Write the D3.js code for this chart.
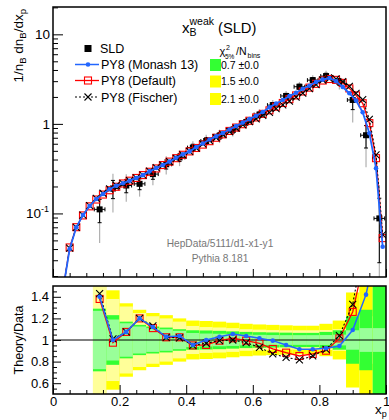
<!DOCTYPE html>
<html><head><meta charset="utf-8">
<script src="https://cdn.jsdelivr.net/npm/d3@7"></script>
<style>body{margin:0;background:#fff} svg{display:block} text{font-family:"Liberation Sans",Arial,Helvetica,sans-serif}</style>
</head><body><svg id="c" width="389" height="420"></svg>
<script>
// ---------- data ----------
const mcX = [0.01,0.03,0.05,0.07,0.09,0.11,0.13,0.15,0.17,0.19,0.21,0.23,0.25,0.27,0.29,0.31,0.33,0.35,0.37,0.39,0.41,0.43,0.45,0.47,0.49,0.51,0.53,0.55,0.57,0.59,0.61,0.63,0.65,0.67,0.69,0.71,0.73,0.75,0.77,0.79,0.81,0.83,0.85,0.87,0.89,0.91,0.93,0.95,0.97,0.99];
const mcDefault = [0.003,0.014,0.0417,0.0702,0.095,0.120,0.143,0.1625,0.1815,0.1986,0.216,0.232,0.249,0.268,0.292,0.318,0.347,0.379,0.414,0.452,0.493,0.538,0.587,0.641,0.700,0.764,0.834,0.910,0.992,1.083,1.18,1.294,1.416,1.556,1.712,1.888,2.08,2.30,2.54,2.80,3.05,3.17,3.10,2.87,2.49,2.08,1.70,1.02,0.414,0.053];
const mcMonash = [0.003,0.014,0.040,0.070,0.096,0.121,0.145,0.165,0.186,0.204,0.217,0.232,0.249,0.268,0.295,0.321,0.347,0.379,0.419,0.457,0.493,0.550,0.605,0.670,0.725,0.792,0.865,0.945,1.034,1.130,1.235,1.357,1.530,1.686,1.850,2.04,2.23,2.47,2.67,2.94,3.12,3.25,3.00,2.58,2.20,1.82,1.35,0.787,0.32,0.0425];
const mcFischer = [0.003,0.014,0.041,0.070,0.096,0.122,0.147,0.168,0.188,0.206,0.216,0.232,0.249,0.268,0.297,0.324,0.347,0.379,0.412,0.450,0.493,0.538,0.597,0.652,0.700,0.764,0.821,0.895,0.973,1.062,1.135,1.245,1.345,1.478,1.628,1.795,1.99,2.20,2.48,2.74,3.09,3.21,3.19,2.96,2.63,2.19,1.87,1.12,0.45,0.058];

const dataX = [0.14,0.18,0.22,0.26,0.30,0.34,0.38,0.42,0.46,0.50,0.54,0.58,0.62,0.66,0.70,0.74,0.78,0.82,0.86,0.90,0.94,0.98];
const dataY = [0.111,0.19,0.205,0.214,0.275,0.354,0.422,0.543,0.644,0.736,0.858,1.044,1.27,1.62,2.05,2.60,3.08,3.42,2.95,1.85,0.747,0.088];
const errStat = [0.27,0.19,0.155,0.125,0.11,0.10,0.085,0.065,0.06,0.058,0.055,0.05,0.048,0.046,0.045,0.045,0.045,0.046,0.05,0.09,0.11,0.11];
const errTot  = [0.29,0.23,0.17,0.14,0.125,0.115,0.10,0.09,0.088,0.085,0.08,0.075,0.072,0.07,0.068,0.066,0.066,0.075,0.09,0.22,0.28,0.68];
const binHalf = 0.02;

const ratioDefault = [1.38,0.975,1.075,1.20,1.11,1.025,1.025,0.95,0.954,0.994,1.016,0.994,0.969,0.917,0.883,0.852,0.871,0.901,1.015,1.26,1.82,2.6];
const ratioMonash  = [1.40,1.0,1.075,1.20,1.12,1.03,1.037,0.954,1.0,1.03,1.055,1.037,1.016,0.994,0.954,0.914,0.914,0.923,0.945,1.092,1.42,2.0];
const ratioFischer = [1.43,1.01,1.075,1.20,1.13,1.025,1.02,0.95,0.97,0.994,1.0,0.975,0.932,0.871,0.84,0.815,0.852,0.914,1.04,1.33,2.0,2.8];

const legendNames = ["SLD","PY8 (Monash 13)","PY8 (Default)","PY8 (Fischer)"];
const chi2Text = ["0.7 \u00b10.0","1.5 \u00b10.0","2.1 \u00b10.0"];
const xTicks = [0,0.2,0.4,0.6,0.8,1];
const rTicks = [0.6,0.8,1,1.2,1.4];
const yMajor = [0.1,1,10];

// ---------- setup ----------
const svg = d3.select("#c");
svg.append("rect").attr("width",389).attr("height",420).attr("fill","#fff");
const L=53,R=386,T1=7,B1=277,T2=286,B2=394;
const x = d3.scaleLinear().domain([0,1]).range([L,R]);
const y = d3.scaleLog().domain([0.0195,20.2]).range([B1,T1]);
const yr = d3.scaleLinear().domain([0.5,1.5]).range([B2,T2]);

const defs = svg.append("defs");
defs.append("clipPath").attr("id","cpTop").append("rect").attr("x",L).attr("y",T1).attr("width",R-L).attr("height",B1-T1);
defs.append("clipPath").attr("id","cpRat").append("rect").attr("x",L).attr("y",T2).attr("width",R-L).attr("height",B2-T2);

const BLUE="#2266ff", RED="#ff0000";
const C_G="#33ff33", C_PG="#99ff99", C_Y="#ffff00", C_PY="#ffff99";

function markerSquareOpen(g,cx,cy){g.append("rect").attr("x",cx-3.5).attr("y",cy-3.5).attr("width",7).attr("height",7).attr("fill","none").attr("stroke",RED).attr("stroke-width",1.1);}
function markerX(g,cx,cy){g.append("path").attr("d",`M${cx-3.5},${cy-3.5}L${cx+3.5},${cy+3.5}M${cx-3.5},${cy+3.5}L${cx+3.5},${cy-3.5}`).attr("stroke","#000").attr("stroke-width",1.1);}
function markerDot(g,cx,cy){g.append("circle").attr("cx",cx).attr("cy",cy).attr("r",2.3).attr("fill",BLUE);}

// ---------- top panel ----------
const gt = svg.append("g").attr("clip-path","url(#cpTop)");
const lo = v => Math.max(v, 1e-4);
dataX.forEach((cx,i)=>{
  const v=dataY[i], b=errTot[i], px=x(cx);
  gt.append("line").attr("x1",px).attr("x2",px).attr("y1",y(lo(v*(1-2*b)))).attr("y2",y(v*(1+2*b))).attr("stroke","#b0b0b0").attr("stroke-width",1.2);
  const y1=y(lo(v*(1-b))), y2=y(v*(1+b));
  gt.append("line").attr("x1",px).attr("x2",px).attr("y1",y1).attr("y2",y2).attr("stroke","#000");
  [y1,y2].forEach(yy=>gt.append("line").attr("x1",px-2).attr("x2",px+2).attr("y1",yy).attr("y2",yy).attr("stroke","#000"));
  const xa=x(cx-0.016), xb=x(cx+0.016), py=y(v);
  gt.append("line").attr("x1",xa).attr("x2",xb).attr("y1",py).attr("y2",py).attr("stroke","#000");
  [xa,xb].forEach(xx=>gt.append("line").attr("x1",xx).attr("x2",xx).attr("y1",py-2).attr("y2",py+2).attr("stroke","#000"));
  gt.append("rect").attr("x",px-3).attr("y",py-3).attr("width",6).attr("height",6).attr("fill","#000");
});
const lineTop = arr => d3.line().x((d,i)=>x(mcX[i])).y(d=>y(d))(arr);
gt.append("path").attr("d",lineTop(mcDefault)).attr("fill","none").attr("stroke",RED).attr("stroke-width",1.3);
mcDefault.forEach((d,i)=>markerSquareOpen(gt,x(mcX[i]),y(d)));
gt.append("path").attr("d",lineTop(mcFischer)).attr("fill","none").attr("stroke","#000").attr("stroke-width",1.1).attr("stroke-dasharray","2,2");
mcFischer.forEach((d,i)=>markerX(gt,x(mcX[i]),y(d)));
gt.append("path").attr("d",lineTop(mcMonash)).attr("fill","none").attr("stroke",BLUE).attr("stroke-width",1.8);
mcMonash.forEach((d,i)=>markerDot(gt,x(mcX[i]),y(d)));

// ---------- ratio panel ----------
const gr = svg.append("g").attr("clip-path","url(#cpRat)");
dataX.forEach((cx,i)=>{
  const a=errStat[i], b=errTot[i], xa=x(cx-binHalf), w=x(cx+binHalf)-xa;
  [[2*b,C_Y],[2*a,C_PY],[b,C_G],[a,C_PG]].forEach(([e,c])=>{
    gr.append("rect").attr("x",xa).attr("width",w).attr("y",yr(1+e)).attr("height",yr(1-e)-yr(1+e)).attr("fill",c);
  });
});
gr.append("line").attr("x1",L).attr("x2",R).attr("y1",yr(1)).attr("y2",yr(1)).attr("stroke","#000").attr("stroke-width",1);
const lineR = arr => d3.line().x((d,i)=>x(dataX[i])).y(d=>yr(d))(arr);
gr.append("path").attr("d",lineR(ratioDefault)).attr("fill","none").attr("stroke",RED).attr("stroke-width",1.3);
ratioDefault.forEach((d,i)=>markerSquareOpen(gr,x(dataX[i]),yr(d)));
gr.append("path").attr("d",lineR(ratioFischer)).attr("fill","none").attr("stroke","#000").attr("stroke-width",1.1).attr("stroke-dasharray","2,2");
ratioFischer.forEach((d,i)=>markerX(gr,x(dataX[i]),yr(d)));
gr.append("path").attr("d",lineR(ratioMonash)).attr("fill","none").attr("stroke",BLUE).attr("stroke-width",1.5);
ratioMonash.forEach((d,i)=>markerDot(gr,x(dataX[i]),yr(d)));

// ---------- axes ----------
function style(g){g.select(".domain").remove();g.selectAll(".tick line").attr("stroke","#000");g.selectAll("text").attr("font-size",13).attr("fill","#000").attr("font-family",'"Liberation Sans",Arial,sans-serif');}
const xMinor = d3.range(0,21).map(k=>k*0.05).filter(v=>Math.abs(v*5-Math.round(v*5))>1e-6);
svg.append("g").attr("transform",`translate(0,${B1})`).call(d3.axisBottom(x).tickValues(xTicks).tickSize(-8).tickFormat("")).call(style);
svg.append("g").attr("transform",`translate(0,${B1})`).call(d3.axisBottom(x).tickValues(xMinor).tickSize(-4).tickFormat("")).call(style);
svg.append("g").attr("transform",`translate(0,${B2})`).call(d3.axisBottom(x).tickValues(xTicks).tickSize(-9).tickPadding(3).tickFormat(d3.format(""))).call(style);
svg.append("g").attr("transform",`translate(0,${B2})`).call(d3.axisBottom(x).tickValues(xMinor).tickSize(-4).tickFormat("")).call(style);
const yMinor=[];[0.01,0.1,1,10].forEach(dec=>{for(let k=2;k<=9;k++){const v=k*dec;if(v>0.0195&&v<20.2)yMinor.push(v);}});
svg.append("g").attr("transform",`translate(${L},0)`).call(d3.axisLeft(y).tickValues(yMajor).tickSize(-10).tickFormat("")).call(style);
svg.append("g").attr("transform",`translate(${L},0)`).call(d3.axisLeft(y).tickValues(yMinor).tickSize(-5).tickFormat("")).call(style);
const ylab = svg.append("g").attr("font-size",13.5).attr("text-anchor","end");
ylab.append("text").attr("x",50).attr("y",y(10)+5).text("10");
ylab.append("text").attr("x",50).attr("y",y(1)+5).text("1");
const t01 = ylab.append("text").attr("x",49).attr("y",y(0.1)+5);
t01.append("tspan").text("10"); t01.append("tspan").attr("font-size",9).attr("dy",-6).text("-1");
const rMinor = d3.range(11,30).map(k=>k*0.05).filter(v=>Math.abs(v*5-Math.round(v*5))>1e-6);
svg.append("g").attr("transform",`translate(${L},0)`).call(d3.axisLeft(yr).tickValues(rTicks).tickSize(-8).tickPadding(4).tickFormat(d3.format(""))).call(style);
svg.append("g").attr("transform",`translate(${L},0)`).call(d3.axisLeft(yr).tickValues(rMinor).tickSize(-4).tickFormat("")).call(style);

[[T1,B1],[T2,B2]].forEach(([t,b])=>svg.append("rect").attr("x",L).attr("y",t).attr("width",R-L).attr("height",b-t).attr("fill","none").attr("stroke","#000").attr("stroke-width",1.5));

// ---------- titles ----------
const yt = svg.append("text").attr("transform","translate(23,9) rotate(-90)").attr("text-anchor","end").attr("font-size",13.5);
yt.append("tspan").text("1/n");
yt.append("tspan").attr("font-size",9.5).attr("dy",3).text("B");
yt.append("tspan").attr("dy",-3).text(" dn");
yt.append("tspan").attr("font-size",9.5).attr("dy",3).text("B");
yt.append("tspan").attr("dy",-3).text("/dx");
yt.append("tspan").attr("font-size",9.5).attr("dy",3).text("p");
svg.append("text").attr("transform",`translate(23,${(T2+B2)/2}) rotate(-90)`).attr("text-anchor","middle").attr("font-size",12.5).text("Theory/Data");
const xt = svg.append("text").attr("x",375).attr("y",414).attr("font-size",13.5);
xt.append("tspan").text("x"); xt.append("tspan").attr("font-size",9).attr("dy",3).text("p");

svg.append("text").attr("x",182).attr("y",33).attr("font-size",15).text("x");
svg.append("text").attr("x",189.5).attr("y",25).attr("font-size",10.5).text("weak");
svg.append("text").attr("x",189.5).attr("y",35.5).attr("font-size",10.5).text("B");
svg.append("text").attr("x",218).attr("y",33).attr("font-size",14.7).text("(SLD)");

svg.append("text").attr("x",220).attr("y",247).attr("text-anchor","middle").attr("font-size",10.2).attr("fill","#777").text("HepData/5111/d1-x1-y1");
svg.append("text").attr("x",220).attr("y",262).attr("text-anchor","middle").attr("font-size",10.2).attr("fill","#777").text("Pythia 8.181");

// ---------- legend ----------
const lg = svg.append("g");
const rowY=[48.5,64.5,80.5,97];
lg.append("rect").attr("x",84.5).attr("y",rowY[0]-3.5).attr("width",7).attr("height",7).attr("fill","#000");
lg.append("line").attr("x1",75).attr("x2",99).attr("y1",rowY[1]).attr("y2",rowY[1]).attr("stroke",BLUE).attr("stroke-width",1.5);
markerDot(lg,88,rowY[1]);
lg.append("line").attr("x1",75).attr("x2",99).attr("y1",rowY[2]).attr("y2",rowY[2]).attr("stroke",RED).attr("stroke-width",1.3);
markerSquareOpen(lg,88,rowY[2]);
lg.append("line").attr("x1",75).attr("x2",99).attr("y1",rowY[3]).attr("y2",rowY[3]).attr("stroke","#000").attr("stroke-width",1.1).attr("stroke-dasharray","2,2");
markerX(lg,88,rowY[3]);
legendNames.forEach((n,i)=>lg.append("text").attr("x",i==0?100:101).attr("y",rowY[i]+4.5).attr("font-size",12.5).text(n));

lg.append("text").attr("x",219.5).attr("y",55).attr("font-size",11).text("\u03c7");
lg.append("text").attr("x",226).attr("y",49.5).attr("font-size",7).text("2");
lg.append("text").attr("x",225).attr("y",58.5).attr("font-size",6.5).text("5%");
lg.append("text").attr("x",236).attr("y",55).attr("font-size",10.5).text("/N");
lg.append("text").attr("x",247.5).attr("y",57.5).attr("font-size",7).text("bins");
const boxC=[C_G,C_Y,C_Y], boxY=[65,81.5,99];
chi2Text.forEach((t,i)=>{
  lg.append("rect").attr("x",210).attr("y",boxY[i]-6).attr("width",11).attr("height",12).attr("fill",boxC[i]);
  lg.append("text").attr("x",221).attr("y",boxY[i]+3.8).attr("font-size",10.5).text(t);
});
</script></body></html>
